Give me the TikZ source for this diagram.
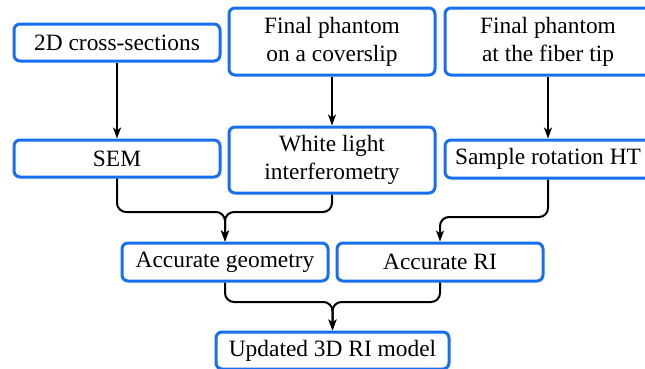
\documentclass[tikz,border=0pt]{standalone}
\usepackage{fontspec}
\setmainfont{Liberation Serif}
\usetikzlibrary{arrows.meta}
\definecolor{boxblue}{RGB}{22,110,240}
\begin{document}
\begin{tikzpicture}[x=1pt,y=-1pt,
  box/.style={draw=boxblue, line width=3pt, rounded corners=6pt, fill=white,
    inner sep=0pt, align=center, font=\fontsize{23.4}{28}\selectfont,
    minimum width=206pt},
  arr/.style={draw=black, line width=2pt, -{Stealth[length=11pt,width=8pt,inset=3pt]}},
  link/.style={arr, rounded corners=9pt}]
\useasboundingbox (0,0) rectangle (645,368);
\begin{scope}
\clip (0,0) rectangle (645,368);
\node[box, minimum height=37pt] (cs) at (117,42.5) {2D cross-sections};
\node[box, minimum height=67pt] (cov) at (332,41.5) {Final phantom\\on a coverslip};
\node[box, minimum height=67pt] (fib) at (548,41.5) {Final phantom\\at the fiber tip};
\node[box, minimum height=37pt] (sem) at (117,158.5) {SEM};
\node[box, minimum height=66pt] (wl) at (332,160) {White light\\interferometry};
\node[box, minimum height=38pt] (sr) at (548,159) {Sample rotation HT};
\node[box, minimum height=38pt] (geo) at (225,262) {Accurate geometry};
\node[box, minimum height=38pt] (ri) at (440,262) {Accurate RI};
\node[box, minimum height=37pt, minimum width=233pt] (upd) at (332.5,350.5) {Updated 3D RI model};
\end{scope}
\coordinate (m1) at (225,212);
\coordinate (m2) at (440,217);
\coordinate (m3) at (332.5,302);
\draw[arr] (cs.south) -- (sem.north);
\draw[arr] (cov.south) -- (wl.north);
\draw[arr] (fib.south) -- (sr.north);
\draw[link] (sem.south) |- (m1) -- (geo.north);
\draw[link] (wl.south) |- (m1) -- (geo.north);
\draw[link] (sr.south) |- (m2) -- (ri.north);
\draw[link] (geo.south) |- (m3) -- (upd.north);
\draw[link] (ri.south) |- (m3) -- (upd.north);
\end{tikzpicture}
\end{document}
